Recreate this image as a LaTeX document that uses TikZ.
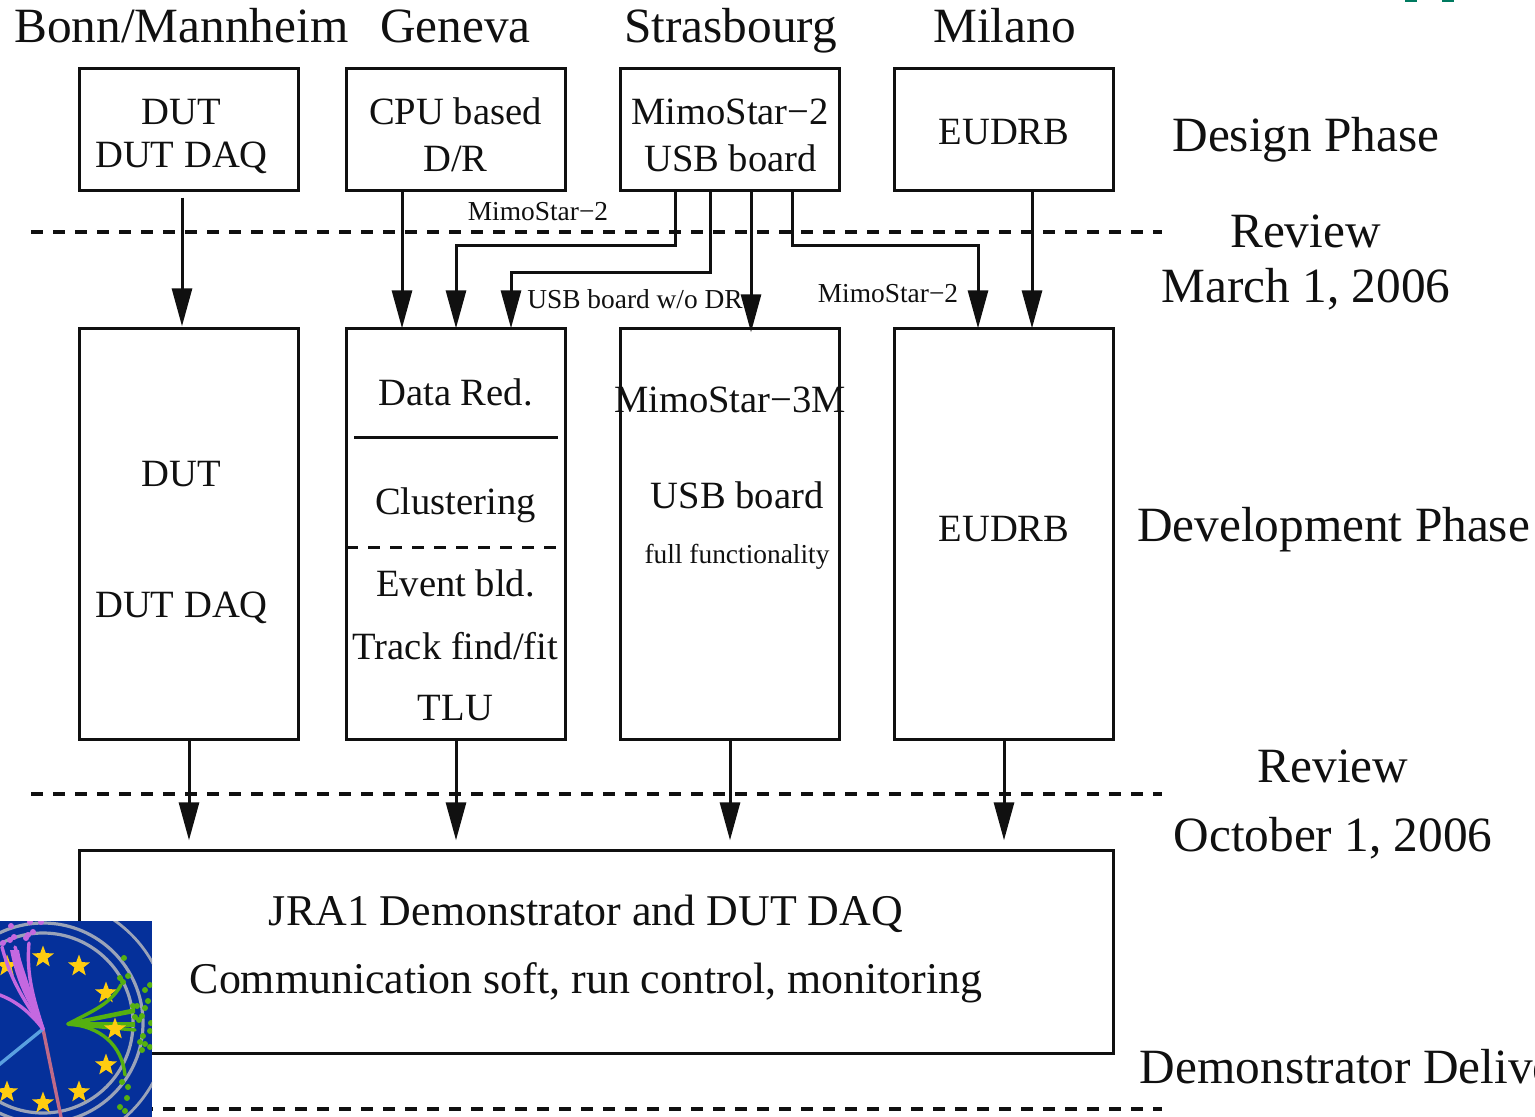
\documentclass[tikz,border=0pt]{standalone}
\usepackage{fontspec}
\setmainfont{Liberation Serif}
\usetikzlibrary{arrows.meta,shapes.geometric}
\definecolor{ink}{HTML}{101010}
\definecolor{logoblue}{HTML}{05309A}
\definecolor{ring}{HTML}{9AA3B8}
\definecolor{purp}{HTML}{C468E0}
\definecolor{grn}{HTML}{55B010}
\definecolor{starc}{HTML}{FFCC10}
\definecolor{teal}{HTML}{007A60}
\definecolor{trkred}{HTML}{C06A88}
\definecolor{trkblue}{HTML}{5AA0E0}
\tikzset{
  stagebox/.style={draw=ink,line width=1.4pt,inner sep=0pt,outer sep=0pt,minimum width=109.6pt},
  designbox/.style={stagebox,minimum height=61.2pt},
  devbox/.style={stagebox,minimum height=205.7pt},
  lab/.style={anchor=base,inner sep=0pt,text=ink,font=\fontsize{24.65pt}{26pt}\selectfont},
  mid/.style={anchor=base,inner sep=0pt,text=ink,font=\fontsize{19.3pt}{22pt}\selectfont},
  big/.style={anchor=base,inner sep=0pt,text=ink,font=\fontsize{21.95pt}{24pt}\selectfont},
  small/.style={anchor=base,inner sep=0pt,text=ink,font=\fontsize{13.7pt}{15pt}\selectfont},
  arr/.style={draw=ink,line width=1.5pt,-{Triangle[length=19pt,width=10pt]}},
  review/.style={draw=ink,line width=1.7pt,dash pattern=on 6pt off 5pt},
  rule/.style={draw=ink,line width=1.3pt},
  estar/.style={star,star points=5,star point ratio=2.4,fill=starc,inner sep=0pt,minimum size=11.5pt,draw=none},
  track/.style={line width=1.7pt,line cap=round},
  speck/.style={circle,inner sep=0pt,minimum size=3pt,fill=grn,draw=none},
  pspeck/.style={circle,inner sep=0pt,minimum size=3pt,fill=purp,draw=none},
}
\begin{document}
\begin{tikzpicture}[x=0.5pt,y=-0.5pt]
\useasboundingbox (0,0) rectangle (1535,1117);
% review lines
\coordinate (r1a) at (31,232); \coordinate (r1b) at (1162,232);
\coordinate (r2a) at (31,794); \coordinate (r2b) at (1162,794);
\coordinate (r3a) at (31,1109); \coordinate (r3b) at (1162,1109);
\draw[review] (r1a) -- (r1b);
\draw[review] (r2a) -- (r2b);
\draw[review] (r3a) -- (r3b);
% headers
\node[lab] (hb) at (181.5,43) {Bonn/Mannheim};
\node[lab] (hg) at (455.5,43) {Geneva};
\node[lab] (hs) at (730.5,43) {Strasbourg};
\node[lab] (hm) at (1004.5,43) {Milano};
% design boxes
\node[designbox] (b1) at (189,129.5) {};
\node[designbox] (b2) at (456,129.5) {};
\node[designbox] (b3) at (730,129.5) {};
\node[designbox] (b4) at (1004,129.5) {};
\node[mid] (t1a) at (181.5,125) {DUT};
\node[mid] (t1b) at (181.5,168) {DUT DAQ};
\node[mid] (t2a) at (455.5,125) {CPU based};
\node[mid] (t2b) at (455.5,172) {D/R};
\node[mid] (t3a) at (730,125) {MimoStar−2};
\node[mid] (t3b) at (730.5,172) {USB board};
\node[mid] (t4) at (1004,145) {EUDRB};
% development boxes
\node[devbox] (d1) at (189,534) {};
\node[devbox] (d2) at (456,534) {};
\node[devbox] (d3) at (730,534) {};
\node[devbox] (d4) at (1004,534) {};
\node[mid] (u1) at (181.5,486) {DUT};
\node[mid] (u2) at (181.5,617) {DUT DAQ};
\node[mid] (g1) at (455.5,405) {Data Red.};
\node[mid] (g2) at (455.5,514) {Clustering};
\node[mid] (g3) at (455.5,596) {Event bld.};
\node[mid] (g4) at (455.5,659) {Track find/fit};
\node[mid] (g5) at (455.5,720) {TLU};
\coordinate (ra) at (354,437.5); \coordinate (rb) at (558,437.5);
\coordinate (da) at (346,547.5); \coordinate (db) at (558,547.5);
\draw[rule] (ra) -- (rb);
\draw[review,line width=1.3pt] (da) -- (db);
\node[mid] (s1) at (730,412) {MimoStar−3M};
\node[mid] (s2) at (737,508) {USB board};
\node[small] (s3) at (737,563) {full functionality};
\node[mid] (m1) at (1004,541) {EUDRB};
% bottom box
\node[stagebox,minimum width=517.2pt,minimum height=101.7pt] (bot) at (596.5,952) {};
\node[big] (j1) at (586,925) {JRA1 Demonstrator and DUT DAQ};
\node[big] (j2) at (586,993) {Communication soft, run control, monitoring};
% right labels
\node[lab] (p1) at (1306,152) {Design Phase};
\node[lab] (p2) at (1305.5,248) {Review};
\node[lab] (p3) at (1306,303) {March 1, 2006};
\node[lab] (p4) at (1333.5,541) {Development Phase};
\node[lab] (p5) at (1333,782) {Review};
\node[lab] (p6) at (1333,851) {October 1, 2006};
\node[lab,anchor=base west] (p7) at (1139.5,1083) {Demonstrator Delivery};
% small labels
\node[small] (c1) at (538,220.5) {MimoStar−2};
\node[small] (c2) at (635,308.5) {USB board w/o DR};
\node[small] (c3) at (888,302.5) {MimoStar−2};
% arrows
\coordinate (lane1) at (560,246);
\coordinate (lane2) at (600,273);
\coordinate (lane3) at (880,246);
\draw[arr] ([xshift=-3.5pt,yshift=-3.5pt]b1.south) -- ([xshift=-3.5pt,yshift=1pt]d1.north);
\draw[arr] ([xshift=-27pt]b2.south) -- ([xshift=-27pt]d2.north);
\draw[arr] ([xshift=-27.5pt]b3.south) |- (lane1) -| (d2.north);
\draw[arr] ([xshift=-10pt]b3.south) |- (lane2) -| ([xshift=27.5pt]d2.north);
\draw[arr] ([xshift=10.5pt]b3.south) -- ([xshift=10.5pt,yshift=-2pt]d3.north);
\draw[arr] ([xshift=31pt]b3.south) |- (lane3) -| ([xshift=-13pt]d4.north);
\draw[arr] ([xshift=14pt]b4.south) -- ([xshift=14pt]d4.north);
\draw[arr] (d1.south) -- ([xshift=-203.75pt,yshift=5pt]bot.north);
\draw[arr] (d2.south) -- ([xshift=-70.25pt,yshift=5pt]bot.north);
\draw[arr] (d3.south) -- ([xshift=66.75pt,yshift=5pt]bot.north);
\draw[arr] (d4.south) -- ([xshift=203.75pt,yshift=5pt]bot.north);
% teal marks at the top edge
\fill[teal] (1405,0) rectangle (1417,2);
\fill[teal] (1442,0) rectangle (1454,2);
% logo
\begin{scope}
\clip (0,921) rectangle (152,1117);
\fill[logoblue] (0,921) rectangle (152,1117);
\draw[ring,line width=1.6pt] (43,1023) circle [radius=100];
\draw[ring,line width=1.6pt] (43,1023) circle [radius=90];
\draw[ring,line width=1.4pt] (43,1023) circle [radius=125];
\node[estar] (st1) at (7,966) {};
\node[estar] (st2) at (43,957) {};
\node[estar] (st3) at (79,966) {};
\node[estar] (st4) at (106,993) {};
\node[estar] (st6) at (106,1065) {};
\node[estar] (st7) at (79,1092) {};
\node[estar] (st8) at (43,1103) {};
\node[estar] (st9) at (7,1092) {};
% red and blue tracks
\draw[track,color=trkred] (43,1029) -- (61,1117);
\draw[track,color=trkblue] (43,1029) -- (-5,1068);
% purple tracks
\fill[purp] (43,1029) .. controls (30,1005) and (18,990) .. (10,950) -- (19,950) .. controls (24,980) and (32,995) .. (43,1029);
\draw[track,color=purp] (43,1029) .. controls (34,1000) and (26,975) .. (29,943);
\draw[track,color=purp] (43,1029) .. controls (28,1005) and (12,985) .. (2,947);
\draw[track,color=purp] (43,1029) .. controls (32,1000) and (24,975) .. (15,947);
\draw[track,color=purp] (43,1029) .. controls (30,1012) and (15,1000) .. (-3,994);
\foreach \k/\dx/\dy in {1/11/926,2/30/922,3/41/922,4/3/943,5/10/940,6/28/935,7/33/932,8/14/937,9/26/938}{
  \node[pspeck] (pp\k) at (\dx,\dy) {};
}
% green tracks
\fill[grn] (68,1022) -- (135,1008) -- (135,1013) -- (68,1026) -- cycle;
\fill[grn] (68,1022) -- (135,1022) -- (135,1027) -- (68,1026) -- cycle;
\draw[track,color=grn] (68,1024) -- (135,1030);
\draw[track,color=grn] (68,1024) .. controls (90,1012) and (110,1005) .. (121,985);
\draw[track,color=grn] (68,1024) .. controls (100,1026) and (122,1045) .. (125,1075);
\foreach \k/\dx/\dy in {2/124/958,3/120/978,4/128/976,5/123/982,6/133/1006,7/137/1006,8/135/1017,9/139/1020,10/142/1016,11/145/1008,12/150/985,13/145/990,14/148/1001,15/143/1036,16/140/1042,17/145/1044,18/142/1050,19/150/1047,20/151/1023,21/150/1031,22/122/1082,23/128/1087,24/127/1098,25/120/1107,26/125/1111}{
  \node[speck] (gg\k) at (\dx,\dy) {};
}
\node[estar] (st5) at (115,1029) {};
\end{scope}
\end{tikzpicture}
\end{document}
